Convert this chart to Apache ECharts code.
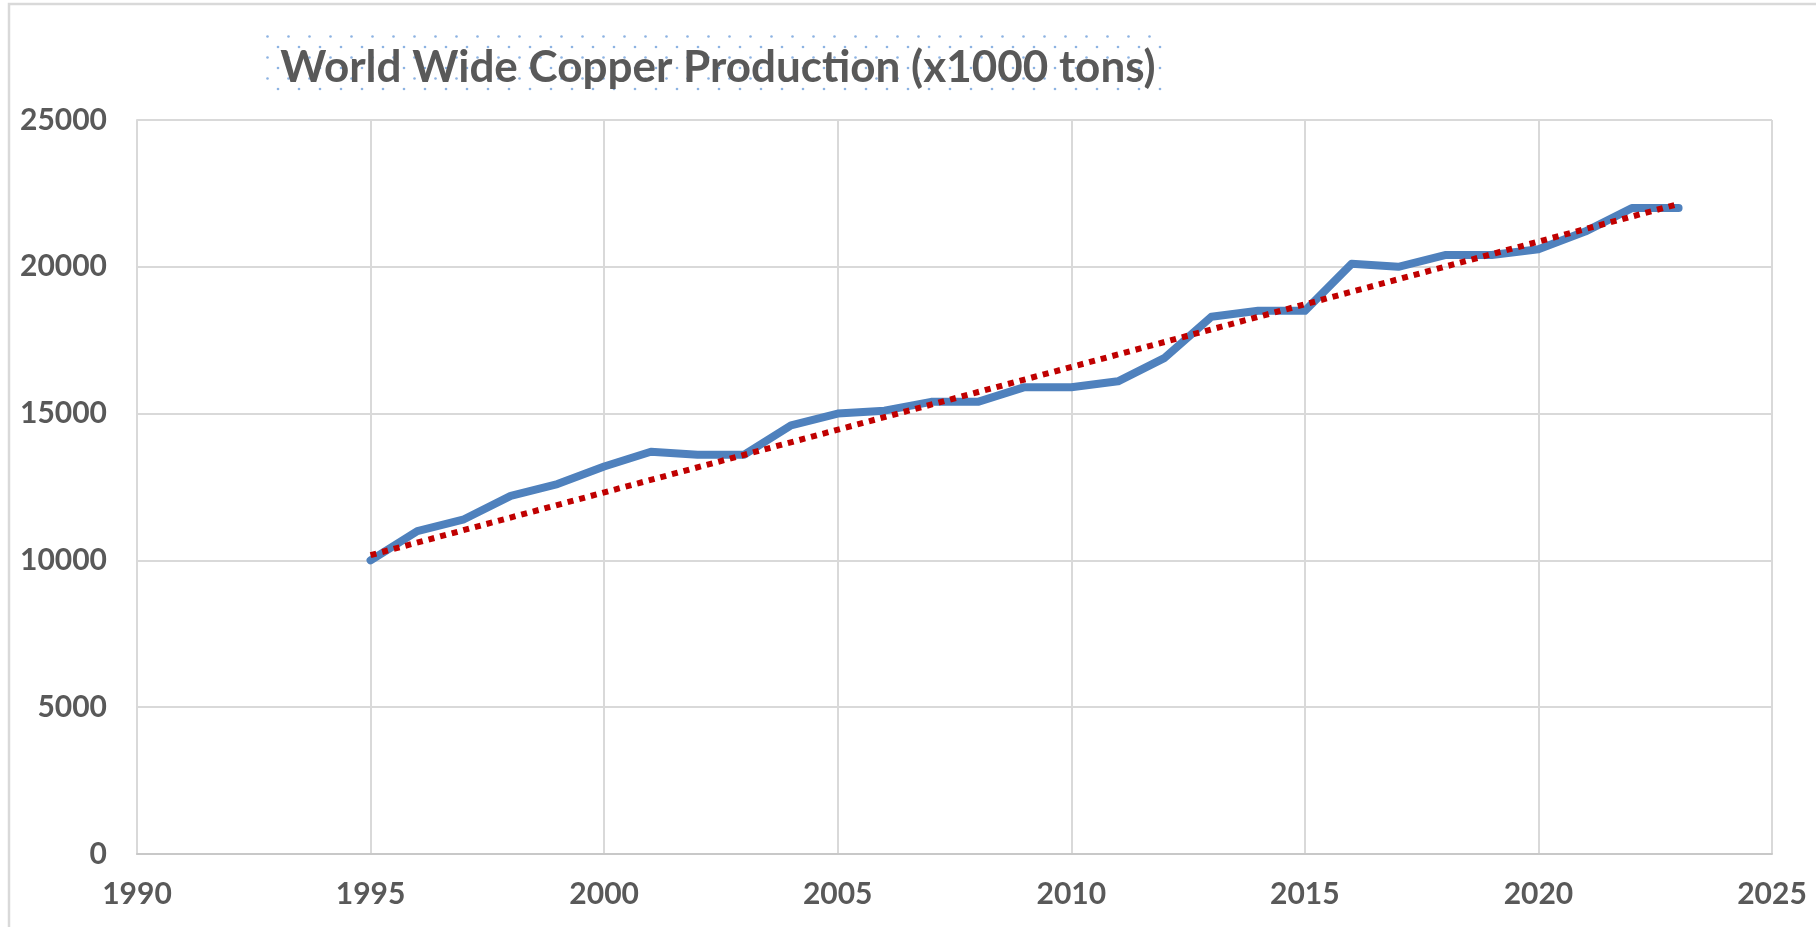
<!DOCTYPE html>
<html>
<head>
<meta charset="utf-8">
<script src="https://cdn.jsdelivr.net/npm/echarts@6/dist/echarts.min.js"></script>
<style>
  html, body { margin: 0; padding: 0; background: #fff; }
  #chart { width: 1816px; height: 927px; }
</style>
</head>
<body>
<div id="chart"></div>
<script>
const years = [1995, 1996, 1997, 1998, 1999, 2000, 2001, 2002, 2003, 2004,
  2005, 2006, 2007, 2008, 2009, 2010, 2011, 2012, 2013, 2014,
  2015, 2016, 2017, 2018, 2019, 2020, 2021, 2022, 2023];
const production = [10000, 11000, 11400, 12200, 12600, 13200, 13700, 13600, 13600, 14600,
  15000, 15100, 15400, 15400, 15900, 15900, 16100, 16900, 18300, 18500,
  18500, 20100, 20000, 20400, 20400, 20600, 21200, 22000, 22000];
// linear trendline as drawn in the source (end points)
const trendYears = [1995, 2023];
const trendValues = [10180, 22140];

const titleText = "World Wide Copper Production (x1000 tons)";
const font = "Lato";
const grey = "#595959";

// dotted pattern behind the title, staggered light-blue dots
function dotPattern() {
  const c = document.createElement("canvas");
  c.width = 21; c.height = 21;
  const g = c.getContext("2d");
  g.fillStyle = "#8db3e2";
  [[5, 5], [15.5, 15.5]].forEach(([x, y]) => {
    g.beginPath(); g.arc(x, y, 1.3, 0, Math.PI * 2); g.fill();
  });
  return c;
}

const plain = (v) => String(v); // no thousands separator, like the source

const chart = echarts.init(document.getElementById("chart"));
chart.setOption({
  animation: false,
  title: {
    text: titleText,
    left: 713, top: 41, textAlign: "center",
    textStyle: { fontFamily: font, fontWeight: "bold", fontSize: 44, color: grey },
    z: 10,
  },
  graphic: [
    { type: "rect", shape: { x: 264, y: 34, width: 904, height: 60 },
      style: { fill: { image: dotPattern(), repeat: "repeat" } }, z: 0, silent: true },
    { type: "polyline", shape: { points: [[9, 927], [9, 4], [1816, 4]] },
      style: { stroke: "#d9d9d9", lineWidth: 2.5, fill: null }, silent: true },
  ],
  grid: { left: 137, right: 44, top: 120, bottom: 73 },
  xAxis: {
    type: "value", min: 1990, max: 2025, interval: 5,
    axisLine: { lineStyle: { color: "#c8c8c8", width: 2 } },
    axisTick: { show: false },
    splitLine: { lineStyle: { color: "#d9d9d9", width: 2 } },
    axisLabel: { fontFamily: font, fontWeight: "bold", fontSize: 30, color: grey, margin: 25,
      formatter: plain },
  },
  yAxis: {
    type: "value", min: 0, max: 25000, interval: 5000,
    axisLine: { show: true, lineStyle: { color: "#d9d9d9", width: 2 } },
    axisTick: { show: false },
    splitLine: { lineStyle: { color: "#d9d9d9", width: 2 } },
    axisLabel: { fontFamily: font, fontWeight: "bold", fontSize: 30, color: grey, margin: 30,
      formatter: plain },
  },
  series: [
    {
      type: "line",
      data: years.map((y, i) => [y, production[i]]),
      showSymbol: false, symbol: "none",
      lineStyle: { color: "#4f81bd", width: 8, cap: "round", join: "round" },
    },
    {
      type: "line",
      data: trendYears.map((y, i) => [y, trendValues[i]]),
      showSymbol: false, symbol: "none",
      lineStyle: { color: "#c00000", width: 6, type: [6, 6], cap: "butt" },
    },
  ],
});
window.addEventListener("resize", () => chart.resize());
</script>
</body>
</html>
